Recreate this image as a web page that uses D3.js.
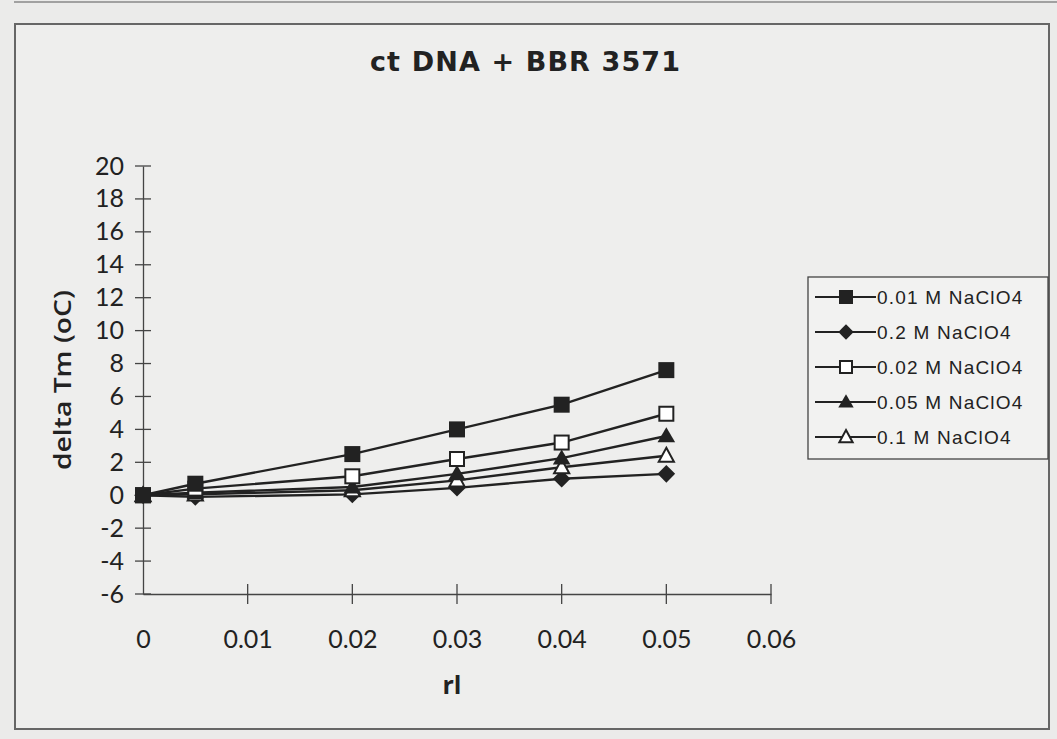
<!DOCTYPE html>
<html><head><meta charset="utf-8">
<script src="https://cdn.jsdelivr.net/npm/d3@7"></script>
<style>body{margin:0;background:#ebebea;}svg{display:block;}</style>
</head><body>
<svg id="c" width="1057" height="739"></svg>
<script>
const xValues = [0, 0.005, 0.02, 0.03, 0.04, 0.05];
const seriesNames = ["0.01 M NaClO4", "0.2 M NaClO4", "0.02 M NaClO4", "0.05 M NaClO4", "0.1 M NaClO4"];
const s001 = [0, 0.7, 2.5, 4.0, 5.5, 7.6];
const s02  = [0, -0.1, 0.05, 0.45, 1.0, 1.3];
const s002 = [0, 0.4, 1.15, 2.2, 3.2, 4.95];
const s005 = [0, 0.15, 0.5, 1.3, 2.25, 3.6];
const s01  = [0, 0.05, 0.3, 0.9, 1.7, 2.4];
const markers = ["squareFilled", "diamond", "squareOpen", "triangleFilled", "triangleOpen"];
const xTicks = [0, 0.01, 0.02, 0.03, 0.04, 0.05, 0.06];
const yTicks = [-6, -4, -2, 0, 2, 4, 6, 8, 10, 12, 14, 16, 18, 20];
const allSeries = [s001, s02, s002, s005, s01];

const svg = d3.select("#c");
svg.append("rect").attr("x",15).attr("y",24).attr("width",1034).attr("height",705)
  .attr("fill","#eeeeed").attr("stroke","#666").attr("stroke-width",2);
svg.append("line").attr("x1",14).attr("x2",1057).attr("y1",2).attr("y2",2).attr("stroke","#888").attr("stroke-width",1.5);

const x = d3.scaleLinear().domain([0,0.06]).range([143,771]);
const y = d3.scaleLinear().domain([-6,20]).range([594,166]);

const ink = "#222";
const tickFont = "Lato, 'Open Sans', sans-serif";
const xAxis = svg.append("g").attr("transform",`translate(0,${y(-6)})`)
  .call(d3.axisBottom(x).tickValues(xTicks).tickSize(0).tickFormat(d=>d===0?"0":d3.format(".2f")(d)));
xAxis.select(".domain").attr("stroke","#444").attr("stroke-width",1.3);
xAxis.selectAll("text").attr("dy",0).attr("y",54).attr("font-family",tickFont).attr("font-size",25).attr("fill",ink);
xTicks.forEach(t=>{ if(t>0) svg.append("line").attr("x1",x(t)).attr("x2",x(t)).attr("y1",y(-6)-10).attr("y2",y(-6)+10).attr("stroke","#444").attr("stroke-width",1.3);});

const yAxis = svg.append("g").attr("transform",`translate(${x(0)},0)`)
  .call(d3.axisLeft(y).tickValues(yTicks).tickSize(0).tickFormat(d=>String(d)));
yAxis.select(".domain").attr("stroke","#444").attr("stroke-width",1.3);
yAxis.selectAll("text").attr("x",-19).attr("font-family",tickFont).attr("font-size",25).attr("fill",ink);
yTicks.forEach(t=> svg.append("line").attr("x1",x(0)-8).attr("x2",x(0)+8).attr("y1",y(t)).attr("y2",y(t)).attr("stroke","#444").attr("stroke-width",1.3));

svg.append("text").attr("x",370).attr("y",71)
  .attr("font-family","'DejaVu Sans', sans-serif").attr("font-weight","bold").attr("font-size",27)
  .attr("textLength",310).attr("lengthAdjust","spacing").attr("fill",ink).text("ct DNA + BBR 3571");
svg.append("text").attr("transform",`translate(71,${y(7)}) rotate(-90)`).attr("text-anchor","middle")
  .attr("font-family","'Open Sans', sans-serif").attr("font-weight","600").attr("font-size",23)
  .attr("textLength",180).attr("lengthAdjust","spacingAndGlyphs").attr("fill",ink).text("delta Tm (oC)");
svg.append("text").attr("x",452).attr("y",694).attr("text-anchor","middle")
  .attr("font-family","'Open Sans', sans-serif").attr("font-weight","bold").attr("font-size",25).attr("fill",ink).text("rl");

function drawMarker(g, type, cx, cy, s){
  const lw = 2;
  if(type==="squareFilled") g.append("rect").attr("x",cx-s).attr("y",cy-s).attr("width",2*s).attr("height",2*s).attr("fill",ink);
  else if(type==="squareOpen") g.append("rect").attr("x",cx-s+1).attr("y",cy-s+1).attr("width",2*s-2).attr("height",2*s-2).attr("fill","#fff").attr("stroke",ink).attr("stroke-width",lw);
  else if(type==="diamond") g.append("path").attr("d",`M${cx},${cy-s*1.1}L${cx+s*1.1},${cy}L${cx},${cy+s*1.1}L${cx-s*1.1},${cy}Z`).attr("fill",ink);
  else if(type==="triangleFilled") g.append("path").attr("d",`M${cx},${cy-s*1.1}L${cx+s*1.1},${cy+s*0.8}L${cx-s*1.1},${cy+s*0.8}Z`).attr("fill",ink);
  else if(type==="triangleOpen") g.append("path").attr("d",`M${cx},${cy-s*1.0}L${cx+s*0.95},${cy+s*0.75}L${cx-s*0.95},${cy+s*0.75}Z`).attr("fill","#fff").attr("stroke",ink).attr("stroke-width",lw);
}

const line = d3.line().x((d,i)=>x(xValues[i])).y(d=>y(d));
const order = [1,4,3,2,0];
order.forEach(k=>{
  svg.append("path").datum(allSeries[k]).attr("d",line).attr("fill","none").attr("stroke",ink).attr("stroke-width",2.4);
});
order.forEach(k=>{
  const g = svg.append("g");
  allSeries[k].forEach((v,i)=>drawMarker(g, markers[k], x(xValues[i]), y(v), 8));
});

const lg = svg.append("g");
lg.append("rect").attr("x",808).attr("y",277).attr("width",240).attr("height",182).attr("fill","#f2f2f1").attr("stroke","#444").attr("stroke-width",1.3);
seriesNames.forEach((n,i)=>{
  const ly = 297 + i*35;
  lg.append("line").attr("x1",815).attr("x2",876).attr("y1",ly).attr("y2",ly).attr("stroke",ink).attr("stroke-width",2);
  drawMarker(lg, markers[i], 846, ly, 7);
  lg.append("text").attr("x",877).attr("y",ly+7).attr("font-family","'Liberation Sans', Arial, sans-serif")
    .attr("font-size",19).attr("letter-spacing",1.2).attr("fill",ink).text(n);
});
</script>
</body></html>
